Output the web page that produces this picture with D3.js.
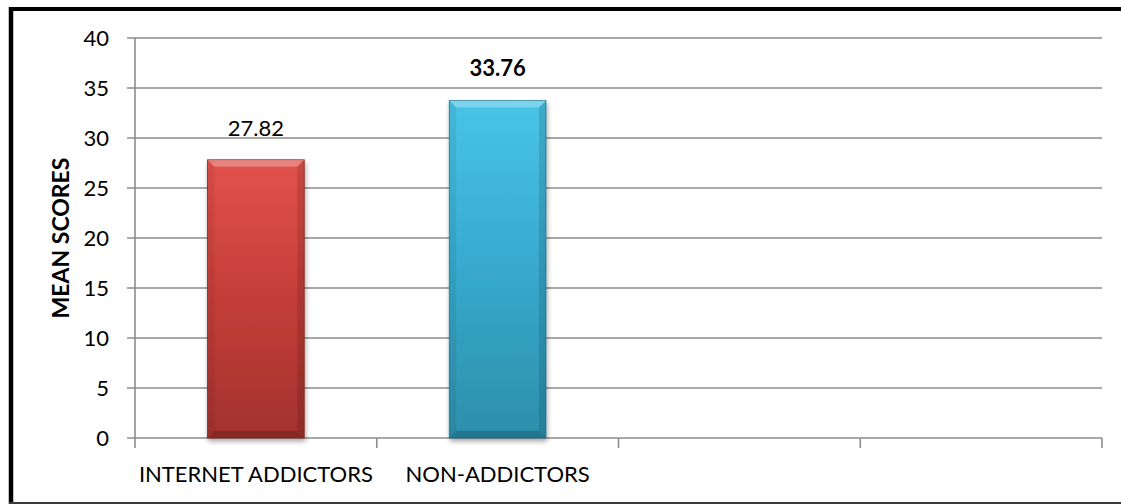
<!DOCTYPE html>
<html>
<head>
<meta charset="utf-8">
<script src="https://cdn.jsdelivr.net/npm/d3@7"></script>
<style>
  html, body { margin: 0; padding: 0; background: #fff; }
  svg { display: block; }
  text { font-family: Lato, "Open Sans", sans-serif; fill: #000; }
</style>
</head>
<body>
<svg id="chart" width="1121" height="504"></svg>
<script>
// Mean scores for the two groups; the chart keeps four category slots, two of them empty.
const categories = ["INTERNET ADDICTORS", "NON-ADDICTORS", "", ""];
const meanScores = [27.82, 33.76, null, null];
const labelBold = [false, true, false, false];
const yTicks = [0, 5, 10, 15, 20, 25, 30, 35, 40];
const yTitle = "MEAN SCORES";

// Fill colours per bar: light top, dark bottom.
const barColors = [
  { top: "#e2524c", mid: "#c83f3a", bottom: "#a2322e", edge: "#8a2724" },
  { top: "#48c4e6", mid: "#38acd0", bottom: "#2c8fab", edge: "#237690" }
];

const W = 1121, H = 504;
const plot = { left: 135, right: 1102, top: 38, bottom: 438 };

const svg = d3.select("#chart");

const x = d3.scaleBand()
  .domain(d3.range(categories.length))
  .range([plot.left, plot.right])
  .paddingInner(0.6)
  .paddingOuter(0.3);

// Slot boundaries for the category tick marks
const xEdge = d3.scaleLinear()
  .domain([0, categories.length])
  .range([plot.left, plot.right]);

const y = d3.scaleLinear()
  .domain([0, 40])
  .range([plot.bottom, plot.top]);

const defs = svg.append("defs");

barColors.forEach((c, i) => {
  const g = defs.append("linearGradient")
    .attr("id", "barGrad" + i)
    .attr("x1", 0).attr("y1", 0).attr("x2", 0).attr("y2", 1);
  g.append("stop").attr("offset", "0%").attr("stop-color", c.top);
  g.append("stop").attr("offset", "45%").attr("stop-color", c.mid);
  g.append("stop").attr("offset", "100%").attr("stop-color", c.bottom);
});

const shadow = defs.append("filter")
  .attr("id", "barShadow")
  .attr("x", "-20%").attr("y", "-10%").attr("width", "140%").attr("height", "125%");
shadow.append("feDropShadow")
  .attr("dx", 1).attr("dy", 3)
  .attr("stdDeviation", 2.5)
  .attr("flood-color", "#000")
  .attr("flood-opacity", 0.35);

// Gridlines with short ticks to the left of the axis
const grid = svg.append("g").attr("class", "grid");
grid.selectAll("line")
  .data(yTicks)
  .join("line")
  .attr("x1", plot.left - 8)
  .attr("x2", plot.right)
  .attr("y1", d => y(d))
  .attr("y2", d => y(d))
  .attr("stroke", "#8c8c8c")
  .attr("stroke-width", 1.6);

// Vertical axis line
svg.append("line")
  .attr("x1", plot.left).attr("x2", plot.left)
  .attr("y1", y(40)).attr("y2", y(0))
  .attr("stroke", "#8c8c8c")
  .attr("stroke-width", 1.6);

// Category boundary ticks below the baseline
svg.append("g").selectAll("line")
  .data(d3.range(categories.length + 1))
  .join("line")
  .attr("x1", d => xEdge(d))
  .attr("x2", d => xEdge(d))
  .attr("y1", y(0))
  .attr("y2", y(0) + 10)
  .attr("stroke", "#8c8c8c")
  .attr("stroke-width", 1.6);

// Y tick labels
svg.append("g").selectAll("text")
  .data(yTicks)
  .join("text")
  .attr("x", plot.left - 26)
  .attr("y", d => y(d))
  .attr("dy", "0.36em")
  .attr("text-anchor", "end")
  .attr("font-size", 22)
  .text(d => d);

// Y axis title
svg.append("text")
  .attr("transform", `translate(61, ${(plot.top + plot.bottom) / 2}) rotate(-90)`)
  .attr("dy", "0.36em")
  .attr("text-anchor", "middle")
  .attr("font-size", 23)
  .attr("font-weight", "bold")
  .text(yTitle);

// Bars with a bevelled face
const barData = meanScores
  .map((v, i) => ({ v, i }))
  .filter(d => d.v != null);

const bars = svg.append("g").selectAll("g")
  .data(barData)
  .join("g");

bars.append("rect")
  .attr("x", d => x(d.i))
  .attr("y", d => y(d.v))
  .attr("width", x.bandwidth())
  .attr("height", d => y(0) - y(d.v))
  .attr("fill", d => `url(#barGrad${d.i})`)
  .attr("stroke", d => barColors[d.i].edge)
  .attr("stroke-width", 0.8)
  .attr("filter", "url(#barShadow)");

const bev = 7;
function bevel(d, side) {
  const x0 = x(d.i), x1 = x(d.i) + x.bandwidth();
  const y0 = y(d.v), y1 = y(0);
  if (side === "top") return `M${x0},${y0}L${x1},${y0}L${x1 - bev},${y0 + bev}L${x0 + bev},${y0 + bev}Z`;
  if (side === "bottom") return `M${x0},${y1}L${x1},${y1}L${x1 - bev},${y1 - bev}L${x0 + bev},${y1 - bev}Z`;
  if (side === "left") return `M${x0},${y0}L${x0 + bev},${y0 + bev}L${x0 + bev},${y1 - bev}L${x0},${y1}Z`;
  return `M${x1},${y0}L${x1 - bev},${y0 + bev}L${x1 - bev},${y1 - bev}L${x1},${y1}Z`;
}
const bevelStyle = {
  top: ["#fff", 0.28],
  bottom: ["#000", 0.18],
  left: ["#000", 0.06],
  right: ["#000", 0.12]
};
Object.keys(bevelStyle).forEach(side => {
  bars.append("path")
    .attr("d", d => bevel(d, side))
    .attr("fill", bevelStyle[side][0])
    .attr("fill-opacity", bevelStyle[side][1]);
});

// Value labels above the bars
svg.append("g").selectAll("text")
  .data(barData)
  .join("text")
  .attr("x", d => x(d.i) + x.bandwidth() / 2)
  .attr("y", d => y(d.v) - 24)
  .attr("text-anchor", "middle")
  .attr("font-size", 22)
  .attr("font-weight", d => labelBold[d.i] ? "bold" : "normal")
  .text(d => d.v.toFixed(2));

// Category labels
svg.append("g").selectAll("text")
  .data(categories.map((c, i) => ({ c, i })).filter(d => d.c))
  .join("text")
  .attr("x", d => x(d.i) + x.bandwidth() / 2)
  .attr("y", 482)
  .attr("text-anchor", "middle")
  .attr("font-size", 22)
  .text(d => d.c);

// Frame around the chart
svg.append("line")
  .attr("x1", 9).attr("x2", W).attr("y1", 9).attr("y2", 9)
  .attr("stroke", "#000").attr("stroke-width", 4);
svg.append("line")
  .attr("x1", 11).attr("x2", 11).attr("y1", 7).attr("y2", H)
  .attr("stroke", "#000").attr("stroke-width", 4.5);
svg.append("line")
  .attr("x1", 9).attr("x2", W).attr("y1", 503).attr("y2", 503)
  .attr("stroke", "#3a3a3a").attr("stroke-width", 2);
</script>
</body>
</html>
